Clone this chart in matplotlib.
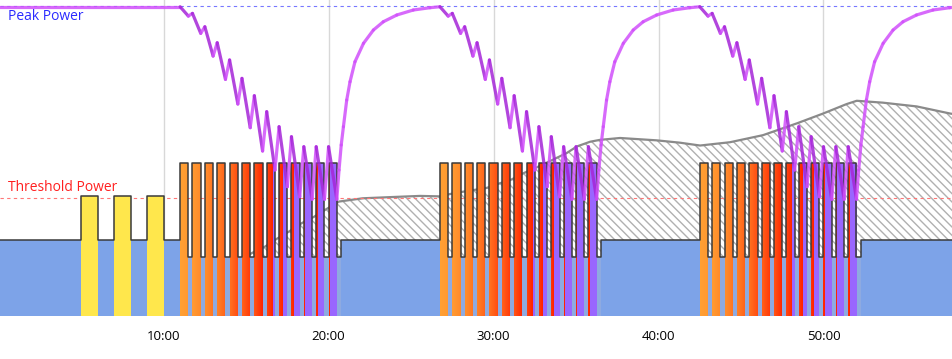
import numpy as np
import matplotlib.pyplot as plt
from matplotlib.collections import LineCollection
from matplotlib.colors import to_rgb

plt.rcParams['font.family'] = ['Open Sans', 'DejaVu Sans']

# workout definition (seconds, watts)
ftp = 250
peak_power = 658
base_power = 162
warmup_starts = [300, 420, 540]
warmup_dur = 60
warmup_power = 255
block_starts = [660, 1605, 2550]
reps = 13
on_dur = 30
off_dur = 15
on_power = 325
off_power = 125
workout_end = 3480

wbal_full = 20.0
wbal_bar_end = [19.03, 17.24, 14.88, 12.46, 9.90, 7.44, 5.02, 3.04, 1.31, 0.27, 0.0, 0.0, 0.0]
wbal_rest_end = [19.31, 17.92, 16.26, 14.47, 12.56, 10.76, 9.10, 7.54, 6.50, 5.46, 5.46, 5.46]
recovery_t = [0, 8, 16, 24, 36, 48, 66, 97, 133, 169, 218, 278, 339, 375]
recovery_wbal = [0.0, 3.04, 5.64, 7.54, 10.31, 12.21, 14.29, 16.20, 17.58, 18.44, 19.14, 19.66, 19.90, 20.0]

# grey hatched curve (watts)
grey_t = [660, 922, 968, 1012, 1058, 1102, 1148, 1192, 1238, 1325, 1448, 1533, 1605,
          1642, 1690, 1733, 1775, 1824, 1866, 1908, 1951, 2002, 2066, 2103, 2151, 2187,
          2260, 2393, 2478, 2551, 2660, 2780, 2903, 2999, 3084, 3121, 3216, 3339, 3460, 3480]
grey_w = [40, 134, 147, 164, 180, 197, 211, 227, 243, 250, 253, 255, 254,
          259, 264, 268, 272, 282, 290, 303, 314, 328, 346, 360, 370, 374,
          378, 373, 368, 362, 369, 384, 409, 430, 450, 457, 453, 445, 430, 428]

tick_minutes = [10, 20, 30, 40, 50]

blue = '#7da3e8'
blue_rest = '#8eaae0'
yellow = '#ffe74c'
orange = '#ffa033'
red = '#ff2200'
purple = '#9966ff'
purple_level = 4.6


def bar_color(w):
    """Colour of an interval slice from the W' balance left"""
    if w < purple_level:
        return purple
    f = min(max((w - purple_level) / (wbal_full - purple_level), 0), 1)
    r0, r1 = np.array(to_rgb(red)), np.array(to_rgb(orange))
    return tuple(r0 + (r1 - r0) * f)


# power profile as steps
prof_t = [0]
prof_w = [base_power]
for s in warmup_starts:
    prof_t += [s, s + warmup_dur]
    prof_w += [warmup_power, base_power]
for b in block_starts:
    for k in range(reps):
        s = b + k * (on_dur + off_dur)
        prof_t += [s, s + on_dur, s + on_dur + off_dur]
        prof_w += [on_power, off_power, base_power]
prof_t.append(workout_end)
prof_w.append(base_power)
prof_t = np.array(prof_t)
prof_w = np.array(prof_w)

# W' balance series
wb_t = [0]
wb_v = [wbal_full]
for b in block_starts:
    wb_t.append(b)
    wb_v.append(wbal_full)
    for k in range(reps):
        s = b + k * (on_dur + off_dur)
        wb_t.append(s + on_dur)
        wb_v.append(wbal_bar_end[k])
        if k < reps - 1:
            wb_t.append(s + on_dur + off_dur)
            wb_v.append(wbal_rest_end[k])
    last_end = b + (reps - 1) * (on_dur + off_dur) + on_dur
    for rt, rv in zip(recovery_t[1:], recovery_wbal[1:]):
        wb_t.append(last_end + rt)
        wb_v.append(rv)
wb_t = np.array(wb_t, dtype=float)
wb_v = np.array(wb_v)

fig = plt.figure(figsize=(9.53, 3.59), dpi=100)
ax = fig.add_axes([0, 43 / 359, 1, 316 / 359])

# grid
for m in tick_minutes:
    ax.axvline(m * 60, color='#d8d8d8', lw=1, zorder=0)

# hatched grey area
ax.fill_between(grey_t, 0, grey_w, facecolor='white', edgecolor='#b0b0b0',
                hatch='\\\\\\\\', linewidth=0, zorder=1)
ax.plot(grey_t, grey_w, color='#8a8a8a', lw=1.6, zorder=1.5)

# reference lines
ax.axhline(ftp, color='#ff7777', lw=0.8, ls=(0, (3, 3)), zorder=1.8)
ax.axhline(peak_power, color='#7777ff', lw=0.8, ls=(0, (3, 3)), zorder=1.8)
ax.text(34, 636, 'Peak Power', color='#2b2bff', fontsize=10, va='center', ha='left')
ax.text(34, 272, 'Threshold Power', color='#ff2020', fontsize=10, va='center', ha='left')

# recovery fill
ax.fill_between(prof_t, 0, prof_w, step='post', color=blue, linewidth=0, zorder=2)
for b in block_starts:
    ax.bar(b, off_power, width=reps * (on_dur + off_dur), align='edge',
           color=blue_rest, linewidth=0, zorder=2.1)

# warmup bars
ax.bar(warmup_starts, warmup_power, width=warmup_dur, align='edge',
       color=yellow, linewidth=0, zorder=3)

# interval bars, coloured second by second from W' balance
for b in block_starts:
    for k in range(reps):
        s = b + k * (on_dur + off_dur)
        secs = np.arange(on_dur) + s
        wv = np.interp(secs + 0.5, wb_t, wb_v)
        ax.bar(secs, on_power, width=1.08, align='edge',
               color=[bar_color(w) for w in wv], linewidth=0, zorder=3)

# outline
ax.step(prof_t, prof_w, where='post', color='#3a3a3a', lw=1.1, zorder=4)

ax.set_xlim(5, 3471)
ax.set_ylim(0, 671)
ax.set_xticks([m * 60 for m in tick_minutes])
ax.set_xticklabels(['%d:00' % m for m in tick_minutes], fontsize=9.5)
ax.tick_params(axis='x', length=0, pad=10)
ax.set_yticks([])
for sp in ax.spines.values():
    sp.set_visible(False)

# W' balance line on its own scale
ax2 = ax.twinx()
ax2.set_ylim(-12.12, 20.70)
ax2.set_xlim(ax.get_xlim())
pts = np.column_stack([wb_t, wb_v])
segs = np.stack([pts[:-1], pts[1:]], axis=1)
dv = np.diff(wb_v)
seg_colors = ['#a526d8' if d < 0 else '#d150fb' for d in dv]
lc = LineCollection(segs, colors=seg_colors, linewidths=2.3, alpha=0.85,
                    capstyle='round', joinstyle='round')
ax2.add_collection(lc)
ax2.set_yticks([])
for sp in ax2.spines.values():
    sp.set_visible(False)

fig.savefig('out.png', dpi=100)
